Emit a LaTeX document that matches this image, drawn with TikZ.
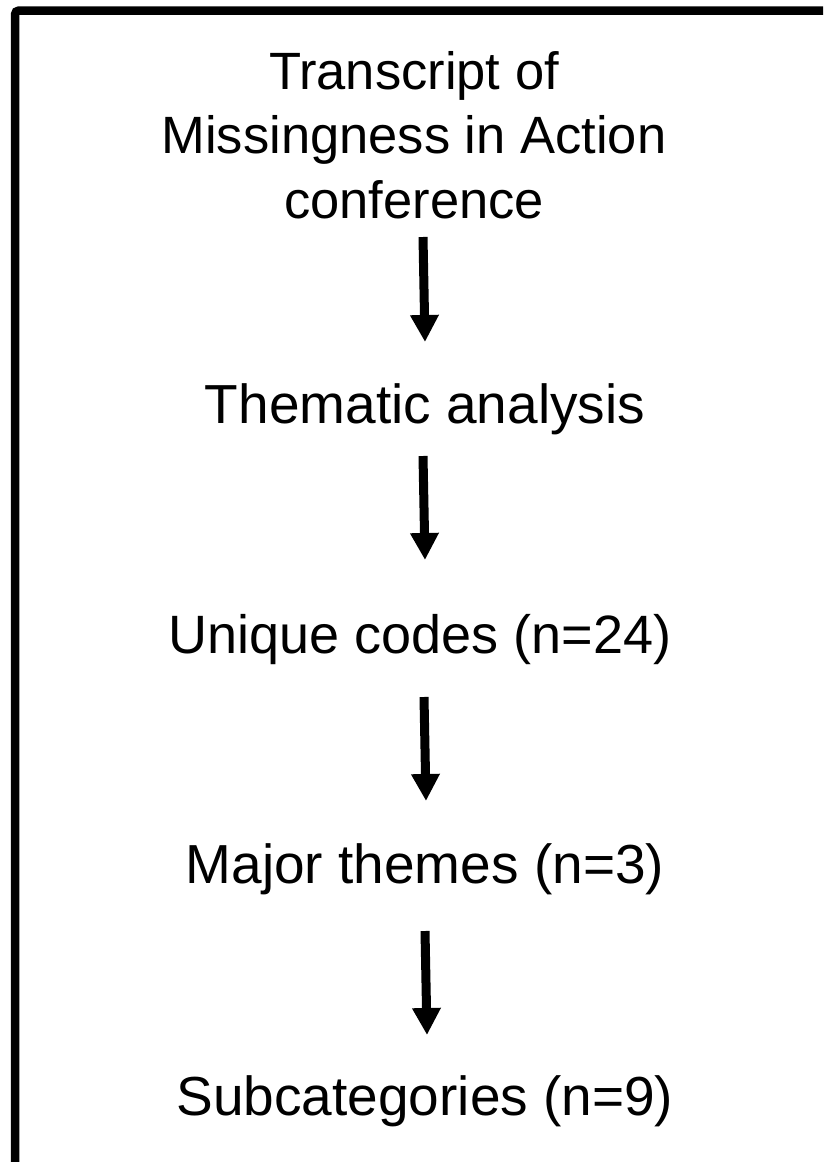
\documentclass[tikz,border=0pt]{standalone}
\usepackage{fontspec}
\setmainfont{Liberation Sans}
\usetikzlibrary{arrows.meta,calc}
\tikzset{
  lbl/.style={inner sep=0pt, outer sep=0pt, anchor=base, font=\fontsize{55}{64.5}\selectfont, text=black},
  arr/.style={line width=9pt, -{Triangle[width=27pt,length=27pt]}, black},
  frame/.style={line width=8.5pt, black, rounded corners=4pt}
}
\begin{document}
\begin{tikzpicture}[x=1pt,y=-1pt]
\useasboundingbox (0,0) rectangle (823,1162);
\fill[white] (0,0) rectangle (823,1162);
\draw[frame] (15,1162) -- (15,10.5) -- (823,10.5);
\node[lbl, align=center, font=\fontsize{52.5}{64.5}\selectfont] (n1) at (414,218) {Transcript of\\Missingness in Action\\conference};
\node[lbl] (n2) at (425,423) {Thematic analysis};
\node[lbl, font=\fontsize{54}{64.5}\selectfont] (n3) at (420,653) {Unique codes (n=24)};
\node[lbl] (n4) at (425,883) {Major themes (n=3)};
\node[lbl] (n5) at (425,1115) {Subcategories (n=9)};
\draw[arr] ($(n1.base)+(9,19)$) -- ($(n2.base)+(0,-81)$);
\draw[arr] ($(n2.base)+(-2,33)$) -- ($(n3.base)+(5,-93)$);
\draw[arr] ($(n3.base)+(4,44)$) -- ($(n4.base)+(1,-82)$);
\draw[arr] ($(n4.base)+(0,48)$) -- ($(n5.base)+(2,-80)$);
\end{tikzpicture}
\end{document}
